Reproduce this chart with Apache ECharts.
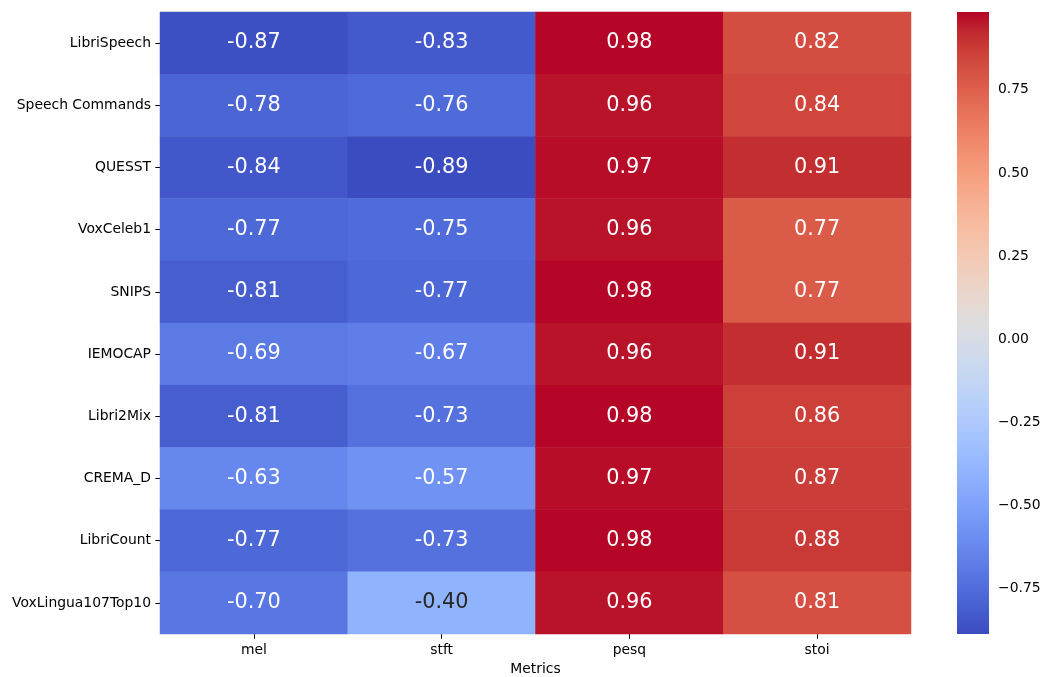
<!DOCTYPE html>
<html>
<head>
<meta charset="utf-8">
<script src="https://cdn.jsdelivr.net/npm/echarts@6/dist/echarts.min.js"></script>
<style>
  html, body { margin: 0; padding: 0; background: #fff; }
  #chart { width: 1042px; height: 677px; }
</style>
</head>
<body>
<div id="chart"></div>
<script>
// Datasets (rows) and metrics (columns)
const datasets = ['LibriSpeech', 'Speech Commands', 'QUESST', 'VoxCeleb1', 'SNIPS',
  'IEMOCAP', 'Libri2Mix', 'CREMA_D', 'LibriCount', 'VoxLingua107Top10'];
const metrics = ['mel', 'stft', 'pesq', 'stoi'];

// Correlation per metric, one entry per dataset
const melValues  = [-0.87, -0.78, -0.84, -0.77, -0.81, -0.69, -0.81, -0.63, -0.77, -0.70];
const stftValues = [-0.83, -0.76, -0.89, -0.75, -0.77, -0.67, -0.73, -0.57, -0.73, -0.40];
const pesqValues = [0.98, 0.96, 0.97, 0.96, 0.98, 0.96, 0.98, 0.97, 0.98, 0.96];
const stoiValues = [0.82, 0.84, 0.91, 0.77, 0.77, 0.91, 0.86, 0.87, 0.88, 0.81];

// Colour scale limits (unrounded extremes of the correlations) and colour bar ticks
const colorMin = -0.886;
const colorMax = 0.984;
const colorbarTicks = [-0.75, -0.5, -0.25, 0, 0.25, 0.5, 0.75];

// coolwarm diverging colormap (33 control points)
const coolwarm = [
  [59,76,192],[68,90,204],[77,104,215],[87,117,225],[98,130,234],[108,142,241],
  [119,154,247],[130,165,251],[141,176,254],[152,185,255],[163,194,255],[174,201,253],
  [184,208,249],[194,213,244],[204,217,238],[213,219,230],[221,221,221],[229,216,209],
  [236,211,197],[241,204,185],[245,196,173],[247,187,160],[247,177,148],[247,166,135],
  [244,154,123],[241,141,111],[236,127,99],[229,112,88],[222,96,77],[213,80,66],
  [203,62,56],[192,40,47],[180,4,38]
];
const rgbStr = c => 'rgb(' + c[0] + ',' + c[1] + ',' + c[2] + ')';

const columns = [melValues, stftValues, pesqValues, stoiValues];

function colorAt(v) {
  let t = (v - colorMin) / (colorMax - colorMin);
  t = Math.max(0, Math.min(1, t));
  const p = t * (coolwarm.length - 1);
  const i = Math.min(Math.floor(p), coolwarm.length - 2);
  const f = p - i;
  const a = coolwarm[i], b = coolwarm[i + 1];
  return [0, 1, 2].map(k => a[k] + (b[k] - a[k]) * f);
}
// dark annotation text on light cells, white on dark ones
function textColorFor(v) {
  const c = colorAt(v).map(x => {
    x = x / 255;
    return x <= 0.03928 ? x / 12.92 : Math.pow((x + 0.055) / 1.055, 2.4);
  });
  const lum = 0.2126 * c[0] + 0.7152 * c[1] + 0.0722 * c[2];
  return lum > 0.408 ? '#262626' : '#ffffff';
}

const cells = [];
columns.forEach((col, ci) => {
  col.forEach((v, ri) => {
    cells.push({ value: [ci, ri, v], label: { color: textColorFor(v) } });
  });
});

const font = 'DejaVu Sans';
const tickFont = 13.9;
const chart = echarts.init(document.getElementById('chart'), null, { renderer: 'canvas' });

chart.setOption({
  animation: false,
  backgroundColor: '#ffffff',
  textStyle: { fontFamily: font },
  grid: [
    { left: 160, right: 131, top: 12, bottom: 43, outerBoundsMode: 'none', containLabel: false },
    { left: 957, width: 32, top: 12, bottom: 43, outerBoundsMode: 'none', containLabel: false }
  ],
  xAxis: [
    {
      gridIndex: 0, type: 'category', data: metrics,
      name: 'Metrics', nameLocation: 'middle', nameGap: 27,
      nameTextStyle: { fontFamily: font, fontSize: tickFont, color: '#000' },
      axisLine: { show: false },
      axisTick: { show: true, alignWithLabel: true, length: 4.7, lineStyle: { color: '#000', width: 1 } },
      axisLabel: { fontFamily: font, fontSize: tickFont, color: '#000', margin: 9 },
      splitLine: { show: false }
    },
    { gridIndex: 1, type: 'value', min: 0, max: 1, show: false }
  ],
  yAxis: [
    {
      gridIndex: 0, type: 'category', data: datasets, inverse: true,
      axisLine: { show: false },
      axisTick: { show: true, alignWithLabel: true, length: 4.7, lineStyle: { color: '#000', width: 1 } },
      axisLabel: { fontFamily: font, fontSize: tickFont, color: '#000', margin: 9 },
      splitLine: { show: false }
    },
    {
      gridIndex: 1, type: 'value', min: colorMin, max: colorMax, position: 'right',
      axisLine: { show: false },
      axisTick: { show: true, length: 4.7, customValues: colorbarTicks, lineStyle: { color: '#000', width: 1 } },
      axisLabel: {
        fontFamily: font, fontSize: tickFont, color: '#000', margin: 9,
        customValues: colorbarTicks,
        formatter: v => (v < 0 ? '\u2212' : '') + Math.abs(v).toFixed(2)
      },
      splitLine: { show: false }
    }
  ],
  visualMap: {
    show: false, type: 'continuous', seriesIndex: 0,
    min: colorMin, max: colorMax, dimension: 2,
    inRange: { color: coolwarm.map(rgbStr) },
    outOfRange: { color: rgbStr(coolwarm[0]) }
  },
  series: [
    {
      type: 'heatmap', xAxisIndex: 0, yAxisIndex: 0,
      data: cells,
      itemStyle: { borderWidth: 0 },
      label: {
        show: true, fontFamily: font, fontSize: 20.8,
        formatter: p => p.value[2].toFixed(2)
      },
      emphasis: { disabled: true }
    },
    {
      // colour bar gradient filling the second grid
      type: 'custom', xAxisIndex: 1, yAxisIndex: 1, silent: true,
      data: [[0, 0]],
      renderItem: (params, api) => {
        const cs = params.coordSys;
        const stops = coolwarm.map((c, i) => ({ offset: i / (coolwarm.length - 1), color: rgbStr(c) }));
        return {
          type: 'rect',
          shape: { x: cs.x, y: cs.y, width: cs.width, height: cs.height },
          style: { fill: new echarts.graphic.LinearGradient(0, 1, 0, 0, stops) }
        };
      }
    }
  ]
});
</script>
</body>
</html>
